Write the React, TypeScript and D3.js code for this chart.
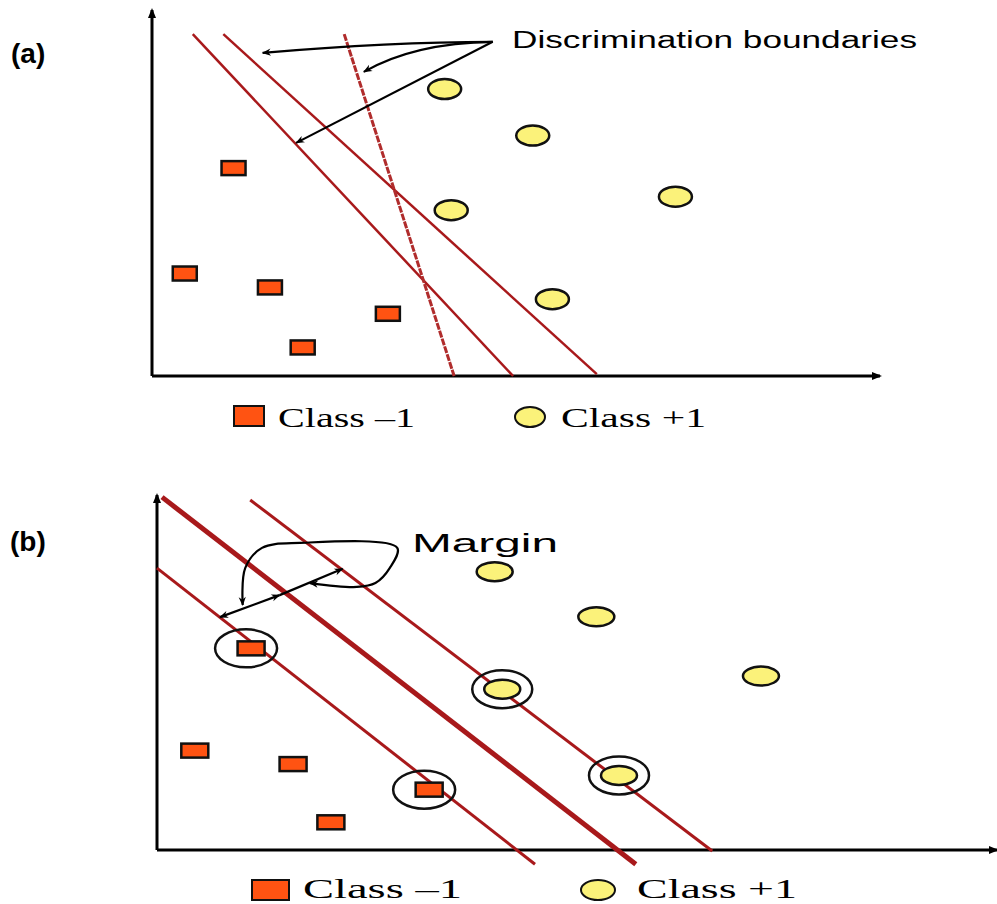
import React from "react";
import * as d3 from "d3";

// Class -1 samples (data units 0..100)
const SQUARE_X = [11.2, 4.5, 16.2, 32.4, 20.7];
const SQUARE_Y = [56.8, 28.0, 24.2, 17.0, 7.8];
// Class +1 samples
const CIRCLE_X = [40.2, 52.3, 71.9, 41.1, 55.0];
const CIRCLE_Y = [78.4, 65.7, 49.0, 45.3, 21.0];
// support vectors in panel (b)
const SV_SQUARES = [0, 3];
const SV_CIRCLES = [3, 4];

// panel (a) candidate discrimination boundaries [x1, y1, x2, y2]
const BOUNDARY_A = [
  [5.6, 93.4, 49.6, 0],
  [9.8, 93.4, 61.1, 0.5],
  [26.4, 93.4, 41.5, 0],
];
// panel (b): lower margin, hyperplane, upper margin
const BOUNDARY_B = [
  [0, 79.4, 45.0, -4.0],
  [0.6, 99.4, 57.0, -4.0],
  [11.1, 98.6, 66.1, -0.3],
];
const BOUNDARY_B_WIDTH = [3, 5, 3];

// annotation arrows panel (a): start, control, end
const ARROW_START_A = [46.8, 91.3];
const ARROWS_A = [
  [[32.7, 91.3], [15.2, 88.3]],
  [[36.0, 91.0], [29.1, 83.1]],
  [[33.0, 98.0], [19.8, 63.7]],
];
// margin double arrow panel (b)
const MARGIN_ARROW = [[7.5, 65.6], [14.6, 71.8], [22.1, 79.2]];
// margin callout curve panel (b)
const MARGIN_CALLOUT = [
  [10.2, 69.0], [10.5, 79.4], [12.5, 85.1], [17.0, 86.5], [28.6, 85.1],
  [27.7, 79.4], [26.0, 75.2], [23.8, 74.1], [18.2, 75.2],
];

const LEGEND_LABELS = ["Class \u20131", "Class +1"];

const RED = "#a8191b";
const ORANGE = "#ff5312";
const YELLOW = "#fbf27a";

const xa = d3.scaleLinear().domain([0, 100]).range([152, 880]);
const ya = d3.scaleLinear().domain([0, 100]).range([376, 10]);
const xb = d3.scaleLinear().domain([0, 100]).range([157, 997]);
const yb = d3.scaleLinear().domain([0, 100]).range([850, 495]);

function Points({ xs, ys, sqW, sqH, rx, ry }: any) {
  return (
    <g>
      {SQUARE_X.map((v, i) => (
        <rect key={"s" + i} x={xs(v) - sqW / 2} y={ys(SQUARE_Y[i]) - sqH / 2} width={sqW} height={sqH}
          fill={ORANGE} stroke="#111" strokeWidth={2.5} />
      ))}
      {CIRCLE_X.map((v, i) => (
        <ellipse key={"c" + i} cx={xs(v)} cy={ys(CIRCLE_Y[i])} rx={rx} ry={ry}
          fill={YELLOW} stroke="#111" strokeWidth={2.5} />
      ))}
    </g>
  );
}

function Axes({ xs, ys, xMax, yMax }: any) {
  return (
    <g stroke="#000" strokeWidth={3} fill="none">
      <line x1={xs(0)} y1={ys(0)} x2={xs(0)} y2={ys(yMax)} markerEnd="url(#axhead)" />
      <line x1={xs(0)} y1={ys(0)} x2={xs(xMax)} y2={ys(0)} markerEnd="url(#axhead)" />
    </g>
  );
}

export default function App() {
  const curve = d3.line<number[]>().x((d) => xb(d[0])).y((d) => yb(d[1])).curve(d3.curveCatmullRom.alpha(0.5));
  const sans = "Liberation Sans, Arial, sans-serif";
  const serif = "Liberation Serif, Times New Roman, serif";
  return (
    <svg width={997} height={904} style={{ position: "absolute", left: 0, top: 0, background: "#fff" }}>
      <defs>
        <marker id="axhead" viewBox="0 0 10 10" refX={8} refY={5} markerWidth={12} markerHeight={10}
          markerUnits="userSpaceOnUse" orient="auto">
          <path d="M0,1 L10,5 L0,9 z" fill="#000" />
        </marker>
        <marker id="ah" viewBox="0 0 10 10" refX={9} refY={5} markerWidth={12} markerHeight={9}
          markerUnits="userSpaceOnUse" orient="auto-start-reverse">
          <path d="M0,1 L10,5 L0,9 L3,5 z" fill="#000" />
        </marker>
      </defs>

      {/* Panel (a) */}
      <text x={11} y={63} fontFamily={sans} fontWeight="bold" fontSize={28}>(a)</text>
      <Axes xs={xa} ys={ya} xMax={100} yMax={100} />
      {BOUNDARY_A.map((b, i) => (
        <line key={i} x1={xa(b[0])} y1={ya(b[1])} x2={xa(b[2])} y2={ya(b[3])}
          stroke={i === 2 ? "#b02c2c" : RED} strokeWidth={i === 2 ? 3 : 2.5}
          strokeDasharray={i === 2 ? "7 1.2" : undefined} />
      ))}
      <Points xs={xa} ys={ya} sqW={24} sqH={14} rx={16.5} ry={10} />
      {ARROWS_A.map((a, i) => {
        const p = d3.path();
        p.moveTo(xa(ARROW_START_A[0]), ya(ARROW_START_A[1]));
        p.quadraticCurveTo(xa(a[0][0]), ya(a[0][1]), xa(a[1][0]), ya(a[1][1]));
        return <path key={i} d={i === 2 ? `M${xa(ARROW_START_A[0])},${ya(ARROW_START_A[1])}L${xa(a[1][0])},${ya(a[1][1])}` : p.toString()}
          fill="none" stroke="#000" strokeWidth={2.2} markerEnd="url(#ah)" />;
      })}
      <text x={512} y={48} fontFamily={sans} fontSize={23} textLength={405} lengthAdjust="spacingAndGlyphs">Discrimination boundaries</text>
      {/* legend (a) */}
      <rect x={234} y={406} width={30} height={20} fill={ORANGE} stroke="#111" strokeWidth={2} />
      <text x={278} y={427} fontFamily={serif} fontSize={27} textLength={137} lengthAdjust="spacingAndGlyphs">{LEGEND_LABELS[0]}</text>
      <ellipse cx={530} cy={417} rx={15} ry={10} fill={YELLOW} stroke="#111" strokeWidth={2} />
      <text x={561} y={427} fontFamily={serif} fontSize={27} textLength={145} lengthAdjust="spacingAndGlyphs">{LEGEND_LABELS[1]}</text>

      {/* Panel (b) */}
      <text x={10} y={551} fontFamily={sans} fontWeight="bold" fontSize={28}>(b)</text>
      <Axes xs={xb} ys={yb} xMax={100} yMax={100} />
      {BOUNDARY_B.map((b, i) => (
        <line key={i} x1={xb(b[0])} y1={yb(b[1])} x2={xb(b[2])} y2={yb(b[3])}
          stroke={RED} strokeWidth={BOUNDARY_B_WIDTH[i]} />
      ))}
      <Points xs={xb} ys={yb} sqW={27} sqH={14} rx={18} ry={9.5} />
      {SV_SQUARES.map((i) => (
        <ellipse key={"rs" + i} cx={xb(SQUARE_X[i]) - 5} cy={yb(SQUARE_Y[i])} rx={31} ry={19}
          fill="none" stroke="#111" strokeWidth={2.5} />
      ))}
      {SV_CIRCLES.map((i) => (
        <ellipse key={"rc" + i} cx={xb(CIRCLE_X[i])} cy={yb(CIRCLE_Y[i])} rx={30} ry={19}
          fill="none" stroke="#111" strokeWidth={2.5} />
      ))}
      {/* margin arrows */}
      <path d={`M${xb(MARGIN_ARROW[0][0])},${yb(MARGIN_ARROW[0][1])}L${xb(MARGIN_ARROW[1][0])},${yb(MARGIN_ARROW[1][1])}`}
        stroke="#000" strokeWidth={2.2} fill="none" markerEnd="url(#ah)" markerStart="url(#ah)" />
      <path d={`M${xb(MARGIN_ARROW[1][0])},${yb(MARGIN_ARROW[1][1])}L${xb(MARGIN_ARROW[2][0])},${yb(MARGIN_ARROW[2][1])}`}
        stroke="#000" strokeWidth={2.2} fill="none" markerEnd="url(#ah)" />
      <path d={curve(MARGIN_CALLOUT as any) || ""} stroke="#000" strokeWidth={2.2} fill="none"
        markerStart="url(#ah)" markerEnd="url(#ah)" />
      <text x={412} y={552} fontFamily={sans} fontSize={26} textLength={146} lengthAdjust="spacingAndGlyphs">Margin</text>
      {/* legend (b) */}
      <rect x={252} y={880} width={37} height={20} fill={ORANGE} stroke="#111" strokeWidth={2} />
      <text x={303} y={898} fontFamily={serif} fontSize={27} textLength={159} lengthAdjust="spacingAndGlyphs">{LEGEND_LABELS[0]}</text>
      <ellipse cx={598} cy={890} rx={17} ry={10} fill={YELLOW} stroke="#111" strokeWidth={2} />
      <text x={637} y={898} fontFamily={serif} fontSize={27} textLength={160} lengthAdjust="spacingAndGlyphs">{LEGEND_LABELS[1]}</text>
    </svg>
  );
}
